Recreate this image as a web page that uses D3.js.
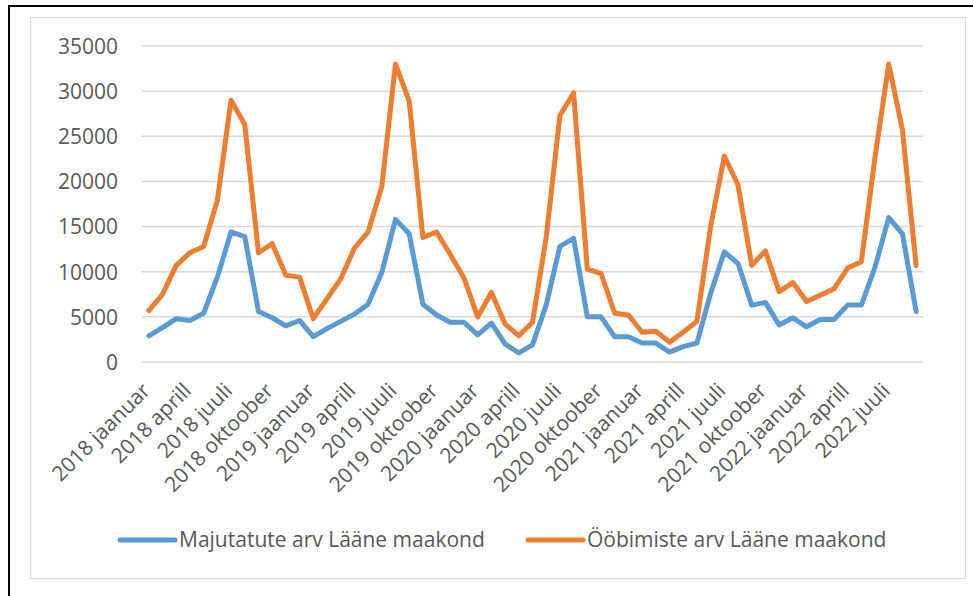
<!DOCTYPE html>
<html>
<head>
<meta charset="utf-8">
<script src="https://cdn.jsdelivr.net/npm/d3@7"></script>
<style>
  body { margin: 0; background: #fff; }
  svg text { font-family: "Open Sans", sans-serif; fill: #595959; }
</style>
</head>
<body>
<div id="graph"></div>
<script>
// month names, one point per month from 2018 jaanuar to 2022 september
var monthNames = ["jaanuar", "veebruar", "märts", "aprill", "mai", "juuni",
                  "juuli", "august", "september", "oktoober", "november", "detsember"]
var years = [2018, 2019, 2020, 2021, 2022]

var months = []
years.forEach(function(y) {
    monthNames.forEach(function(m) { months.push(y + " " + m) })
})
months = months.slice(0, 57)

// Majutatute arv Lääne maakond
var majutatud = [2900, 3800, 4800, 4600, 5400, 9400, 14400, 13900, 5600, 4900, 4000, 4600,
                 2800, 3700, 4500, 5300, 6400, 9900, 15800, 14200, 6400, 5200, 4400, 4400,
                 3000, 4300, 2000, 1000, 1900, 6300, 12800, 13700, 5000, 5000, 2800, 2800,
                 2100, 2100, 1100, 1700, 2100, 7600, 12200, 10900, 6300, 6600, 4100, 4900,
                 3900, 4700, 4700, 6300, 6300, 10500, 16000, 14200, 5600]

// Ööbimiste arv Lääne maakond
var oobimised = [5700, 7500, 10700, 12100, 12800, 17900, 29000, 26300, 12100, 13100, 9600, 9400,
                 4800, 7000, 9200, 12600, 14400, 19400, 33000, 28900, 13800, 14400, 11900, 9300,
                 5000, 7700, 4200, 2900, 4400, 13800, 27300, 29800, 10300, 9800, 5400, 5200,
                 3300, 3400, 2200, 3300, 4500, 15000, 22800, 19600, 10700, 12300, 7800, 8800,
                 6700, 7400, 8100, 10400, 11100, 22700, 33000, 25700, 10700]

var seriesNames = ["Majutatute arv Lääne maakond", "Ööbimiste arv Lääne maakond"]
var seriesColors = ["#5b9bd5", "#ed7d31"]
var yTicks = [0, 5000, 10000, 15000, 20000, 25000, 30000, 35000]

var W = 973, H = 596

var svg = d3.select("#graph").append("svg")
            .attr("width", W)
            .attr("height", H)

svg.append("rect").attr("width", W).attr("height", H).attr("fill", "#fff")

// outer black frame, right and bottom edges fall outside the picture
svg.append("rect")
   .attr("x", 9).attr("y", 6)
   .attr("width", W + 10).attr("height", H + 10)
   .attr("fill", "none").attr("stroke", "#000").attr("stroke-width", 2)

// chart area border
svg.append("rect")
   .attr("x", 30.5).attr("y", 17.5)
   .attr("width", 935).attr("height", 561)
   .attr("fill", "#fff").attr("stroke", "#d9d9d9").attr("stroke-width", 1.2)

// scales
var x = d3.scalePoint()
          .domain(months)
          .range([142, 923])
          .padding(0.5),
    y = d3.scaleLinear()
          .domain([0, 35000])
          .range([362, 46])

// gridlines
svg.append("g")
   .selectAll("line")
   .data(yTicks)
   .enter().append("line")
   .attr("x1", 142).attr("x2", 923)
   .attr("y1", function(d) { return y(d) })
   .attr("y2", function(d) { return y(d) })
   .attr("stroke", "#d9d9d9")
   .attr("stroke-width", 1.5)

// y axis labels
var yAxis = d3.axisLeft(y).tickValues(yTicks).tickFormat(d3.format("d"))
              .tickSize(0).tickPadding(0)
var gy = svg.append("g").attr("transform", "translate(118,0)").call(yAxis)
gy.select(".domain").remove()
gy.selectAll("text")
  .attr("font-size", 21)
  .attr("dy", "0.35em")

// x axis labels, every third month
var xAxis = d3.axisBottom(x)
              .tickValues(months.filter(function(d, i) { return i % 3 === 0 }))
              .tickSize(0).tickPadding(0)
var gx = svg.append("g").attr("transform", "translate(0,362)").call(xAxis)
gx.select(".domain").remove()
gx.selectAll("text")
  .attr("font-size", 21)
  .attr("text-anchor", "end")
  .attr("dy", 0)
  .attr("y", 0)
  .attr("transform", "translate(2,30) rotate(-45)")

// lines
var line = d3.line()
             .x(function(d, i) { return x(months[i]) })
             .y(function(d) { return y(d) })

var series = [majutatud, oobimised]
svg.append("g")
   .selectAll("path")
   .data(series)
   .enter().append("path")
   .attr("d", line)
   .attr("fill", "none")
   .attr("stroke", function(d, i) { return seriesColors[i] })
   .attr("stroke-width", 5)
   .attr("stroke-linejoin", "round")
   .attr("stroke-linecap", "round")

// legend
var legendX = [120, 528]
var legend = svg.append("g")
                .selectAll("g")
                .data(seriesNames)
                .enter().append("g")
                .attr("transform", function(d, i) { return "translate(" + legendX[i] + ",540)" })
legend.append("line")
      .attr("x1", 0).attr("x2", 55)
      .attr("stroke", function(d, i) { return seriesColors[i] })
      .attr("stroke-width", 5)
      .attr("stroke-linecap", "round")
legend.append("text")
      .attr("x", 59)
      .attr("dy", "0.35em")
      .attr("font-size", 21)
      .text(function(d) { return d })
</script>
</body>
</html>
